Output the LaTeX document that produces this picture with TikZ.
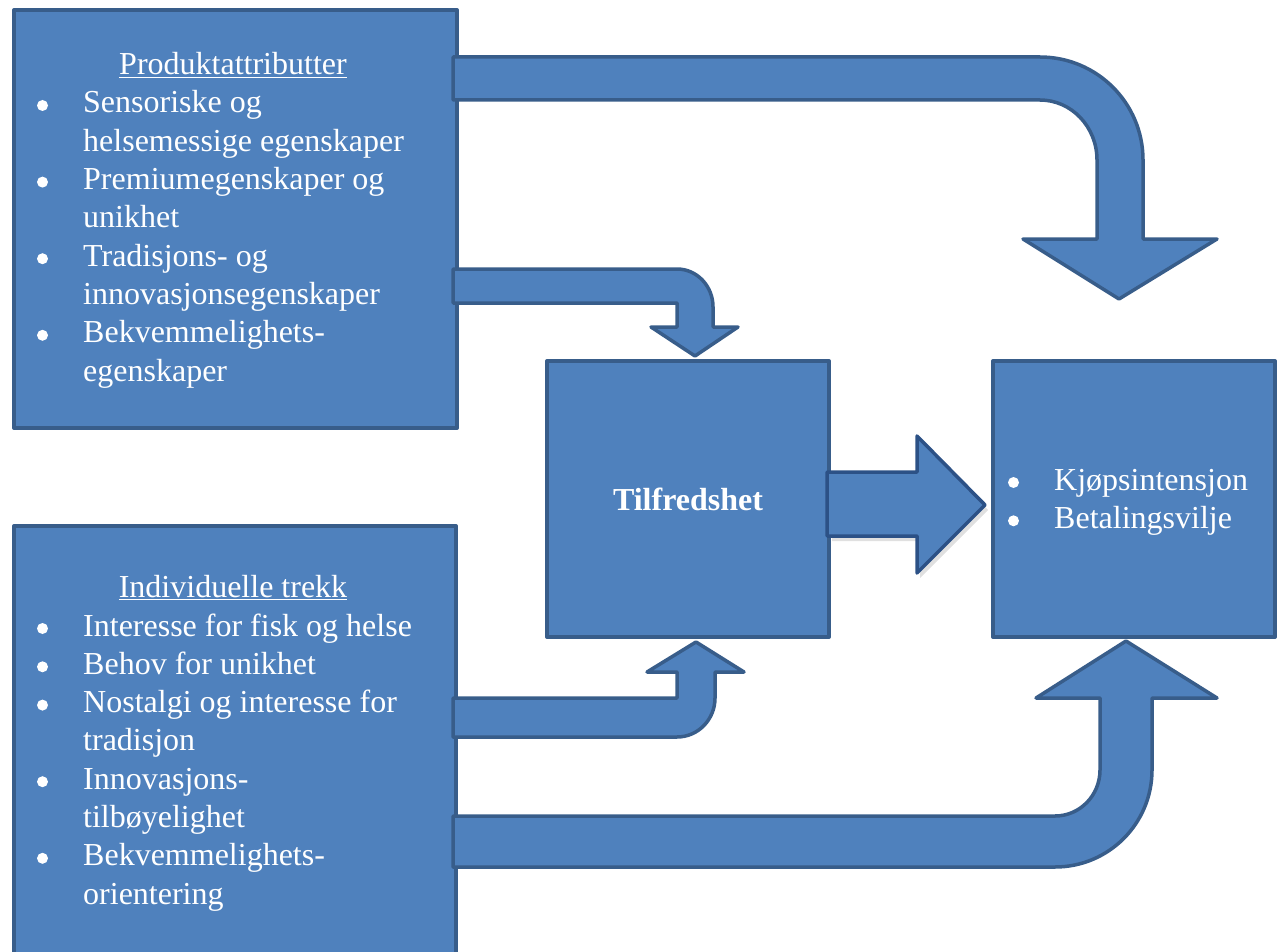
\documentclass[tikz,border=0pt]{standalone}
\usepackage{fontspec}
\setmainfont{Liberation Serif}
\definecolor{boxfill}{HTML}{4F81BD}
\definecolor{boxline}{HTML}{385D8A}
\definecolor{arrline}{HTML}{2C5186}
\tikzset{
  blk/.style={fill=boxfill, draw=boxline, line width=4pt, line join=round, inner sep=0pt, anchor=north west},
  barrow/.style={fill=boxfill, draw=boxline, line width=3.5pt, line join=round},
  txt/.style={text=white, inner sep=0pt, font=\fontsize{32}{38.3}\selectfont},
  bul/.style={fill=white},
}
\newcommand\bitem[1]{\par\hangindent=46pt\hangafter=1\noindent\hspace*{46pt}#1}
\newcommand\blist[2][430pt]{\parbox[t]{#1}{\setlength\parskip{0pt}\raggedright\hyphenpenalty=10000 #2}}
\begin{document}
\begin{tikzpicture}[x=1pt,y=-1pt]
\clip (0,0) rectangle (1281,952);
% boxes
\node[blk, minimum width=443pt, minimum height=418pt] (p) at (12,8) {};
\node[blk, minimum width=442pt, minimum height=440pt] (ind) at (12,524) {};
\node[blk, minimum width=282pt, minimum height=276pt] (tf) at (545,359) {};
\node[blk, minimum width=282pt, minimum height=276pt] (out) at (991,359) {};
% arrows
\draw[barrow] (453,57) -- (1040,57) arc[start angle=-90, end angle=0, x radius=103, y radius=103]
  -- (1143,239) -- (1217,239) -- (1119,299) -- (1023,239) -- (1097,239) -- (1097,160)
  arc[start angle=0, end angle=-90, x radius=57, y radius=60] -- (453,100) -- cycle;
\draw[barrow] (453,269) -- (677,269) arc[start angle=-90, end angle=0, x radius=36, y radius=38]
  -- (713,327) -- (738,327) -- (695,356) -- (651,327) -- (677,327) -- (677,303) -- (453,303) -- cycle;
\draw[barrow] (453,737) -- (677,737) arc[start angle=90, end angle=0, x radius=38, y radius=39]
  -- (715,672) -- (744,672) -- (696,642) -- (647,672) -- (677,672) -- (677,698) -- (453,698) -- cycle;
\draw[barrow] (453,867) -- (1055,867) arc[start angle=90, end angle=0, x radius=97, y radius=97]
  -- (1152,698) -- (1217,698) -- (1126,641) -- (1036,698) -- (1100,698) -- (1100,770)
  arc[start angle=0, end angle=90, x radius=45, y radius=46] -- (453,816) -- cycle;
\fill[black, opacity=0.12, shift={(3,5)}] (829,472) -- (917,472) -- (917,436) -- (985,505) -- (917,573) -- (917,536) -- (829,536) -- cycle;
\draw[barrow, draw=arrline] (827,472) -- (917,472) -- (917,436) -- (985,505) -- (917,573) -- (917,536) -- (827,536) -- cycle;
% texts
\node[txt, anchor=base] (pt) at (233,75) {\underline{Produktattributter}};
\node[txt, anchor=base west] (pl) at (37,113) {\blist{\bitem{Sensoriske og\newline helsemessige egenskaper}\bitem{Premiumegenskaper og\newline unikhet}\bitem{Tradisjons- og\newline innovasjonsegenskaper}\bitem{Bekvemmelighets-\newline egenskaper}}};
\node[txt, anchor=base] (it) at (233,597) {\underline{Individuelle trekk}};
\node[txt, anchor=base west] (il) at (37,636) {\blist{\bitem{Interesse for fisk og helse}\bitem{Behov for unikhet}\bitem{Nostalgi og interesse for\newline tradisjon}\bitem{Innovasjons-\newline tilbøyelighet}\bitem{Bekvemmelighets-\newline orientering}}};
\node[txt, font=\fontsize{32}{38.3}\selectfont\bfseries] (tft) at (tf.center) {Tilfredshet};
\node[txt, anchor=base west] (ol) at (1008,490) {\blist[250pt]{\bitem{Kjøpsintensjon}\bitem{Betalingsvilje}}};
% bullets
\foreach \k in {0,2,4,6} \fill[bul] (42.5,113+\k*38.3-7.5) circle (5.5);
\foreach \k in {0,1,2,4,6} \fill[bul] (42.5,636+\k*38.3-7.5) circle (5.5);
\foreach \k in {0,1} \fill[bul] (1013.5,490+\k*38.3-7.5) circle (5.5);
\end{tikzpicture}
\end{document}
